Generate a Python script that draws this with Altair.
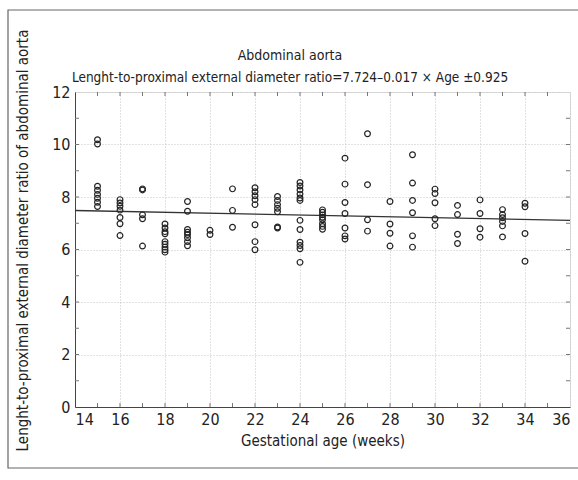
import altair as alt
import pandas as pd

FONT = "DejaVu Sans Condensed"

# Gestational age (weeks) for each measured fetus
age = (
    [15] * 8 + [16] * 7 + [17] * 5 + [18] * 9 + [19] * 8 + [20] * 2 + [21] * 3 +
    [22] * 8 + [23] * 7 + [24] * 12 + [25] * 8 + [26] * 7 + [27] * 4 + [28] * 4 +
    [29] * 6 + [30] * 5 + [31] * 4 + [32] * 4 + [33] * 6 + [34] * 4
)
# Length-to-proximal external diameter ratio
ratio = [
    10.18, 10.02, 8.41, 8.26, 8.10, 7.95, 7.80, 7.64,          # 15
    7.90, 7.77, 7.65, 7.50, 7.22, 6.98, 6.53,                  # 16
    8.31, 8.27, 7.32, 7.17, 6.13,                              # 17
    6.97, 6.82, 6.68, 6.60, 6.30, 6.20, 6.09, 5.99, 5.90,      # 18
    7.83, 7.46, 6.76, 6.66, 6.57, 6.45, 6.30, 6.14,            # 19
    6.73, 6.57,                                                # 20
    8.31, 7.49, 6.85,                                          # 21
    8.35, 8.20, 8.05, 7.90, 7.71, 6.94, 6.30, 5.99,            # 22
    8.02, 7.87, 7.71, 7.57, 7.44, 6.86, 6.82,                  # 23
    8.55, 8.42, 8.27, 8.11, 7.96, 7.87, 7.11, 6.76, 6.28, 6.15, 6.03, 5.51,  # 24
    7.51, 7.42, 7.32, 7.23, 7.13, 6.98, 6.88, 6.77,            # 25
    9.48, 8.49, 7.79, 7.37, 6.82, 6.52, 6.40,                  # 26
    10.41, 8.47, 7.13, 6.70,                                   # 27
    7.83, 6.97, 6.62, 6.13,                                    # 28
    9.61, 8.53, 7.87, 7.40, 6.52, 6.09,                        # 29
    8.30, 8.13, 7.78, 7.17, 6.91,                              # 30
    7.68, 7.33, 6.58, 6.23,                                    # 31
    7.89, 7.37, 6.79, 6.47,                                    # 32
    7.52, 7.33, 7.21, 7.07, 6.90, 6.48,                        # 33
    7.76, 7.63, 6.61, 5.55,                                    # 34
]

# Regression line: ratio = 7.724 - 0.017 * Age
intercept = 7.724
slope = -0.017
line_age = [14, 36]
line_ratio = [intercept + slope * a for a in line_age]

x_ticks = [14, 16, 18, 20, 22, 24, 26, 28, 30, 32, 34, 36]
y_ticks = [0, 2, 4, 6, 8, 10, 12]
x_minor = list(range(15, 36))
y_minor = list(range(1, 12))

title_line1 = "Abdominal aorta"
title_line2 = "Lenght-to-proximal external diameter ratio=7.724\u20130.017 \u00d7 Age \u00b10.925"

pts = pd.DataFrame({"age": age, "ratio": ratio})
line_df = pd.DataFrame({"age": line_age, "ratio": line_ratio})
xminor_df = pd.DataFrame({"age": x_minor})
yminor_df = pd.DataFrame({"ratio": y_minor})

W, H = 495, 315
xs = alt.Scale(domain=[14, 36], nice=False, zero=False)
ys = alt.Scale(domain=[0, 12], nice=False)

x_axis = alt.Axis(
    values=x_ticks, title="Gestational age (weeks)", grid=True,
    gridColor="#c4c4c4", gridDash=[1, 2], gridWidth=1,
    domainColor="#444", ticks=False, labelPadding=4,
    labelFont=FONT, labelFontSize=16, labelColor="#222",
    titleFont=FONT, titleFontSize=15, titleFontWeight="normal", titleColor="#222",
    titlePadding=6,
)
y_axis = alt.Axis(
    values=y_ticks, title="Lenght-to-proximal external diameter ratio of abdominal aorta",
    grid=True, gridColor="#c4c4c4", gridDash=[1, 2], gridWidth=1,
    domainColor="#444", ticks=False, labelPadding=5,
    labelFont=FONT, labelFontSize=16, labelColor="#222",
    titleFont=FONT, titleFontSize=15, titleFontWeight="normal", titleColor="#222",
    titleX=-53, titleY=148, titleAngle=270, titleAlign="center", titleBaseline="middle",
)

points = alt.Chart(pts).mark_point(
    shape="circle", filled=False, size=33, stroke="#222", strokeWidth=1.2, opacity=1
).encode(
    x=alt.X("age:Q", scale=xs, axis=x_axis),
    y=alt.Y("ratio:Q", scale=ys, axis=y_axis),
)

reg = alt.Chart(line_df).mark_line(color="#333", strokeWidth=1.3).encode(
    x=alt.X("age:Q", scale=xs),
    y=alt.Y("ratio:Q", scale=ys),
)

tick_style = dict(color="#777", strokeWidth=1)
xt_bottom = alt.Chart(xminor_df).mark_rule(**tick_style).encode(
    x=alt.X("age:Q", scale=xs), y=alt.value(H), y2=alt.value(H - 4))
xt_top = alt.Chart(xminor_df).mark_rule(**tick_style).encode(
    x=alt.X("age:Q", scale=xs), y=alt.value(0), y2=alt.value(4))
yt_left = alt.Chart(yminor_df).mark_rule(**tick_style).encode(
    y=alt.Y("ratio:Q", scale=ys), x=alt.value(0), x2=alt.value(4))
yt_right = alt.Chart(yminor_df).mark_rule(**tick_style).encode(
    y=alt.Y("ratio:Q", scale=ys), x=alt.value(W), x2=alt.value(W - 4))

frame = alt.Chart(alt.Data(values=[{}])).mark_rect(
    fill=None, stroke="#666", strokeWidth=1.2
).encode(
    x=alt.value(-67), x2=alt.value(520), y=alt.value(-82), y2=alt.value(376)
)

title1 = alt.Chart(alt.Data(values=[{}])).mark_text(
    font=FONT, fontSize=14, color="#222", align="center", baseline="alphabetic"
).encode(x=alt.value(215), y=alt.value(-32), text=alt.value(title_line1))

title2 = alt.Chart(alt.Data(values=[{}])).mark_text(
    font=FONT, fontSize=13.5, color="#222", align="center", baseline="alphabetic"
).encode(x=alt.value(215), y=alt.value(-10), text=alt.value(title_line2))

chart = alt.layer(
    frame, xt_bottom, xt_top, yt_left, yt_right, reg, points, title1, title2
).properties(
    width=W, height=H,
    autosize=alt.AutoSizeParams(type="none"),
    padding={"left": 75, "top": 92, "right": 8, "bottom": 73},
).configure_view(
    stroke="#444", strokeWidth=1
).configure(background="white")

chart.save("out.html", embed_options={"renderer": "svg", "actions": False})
